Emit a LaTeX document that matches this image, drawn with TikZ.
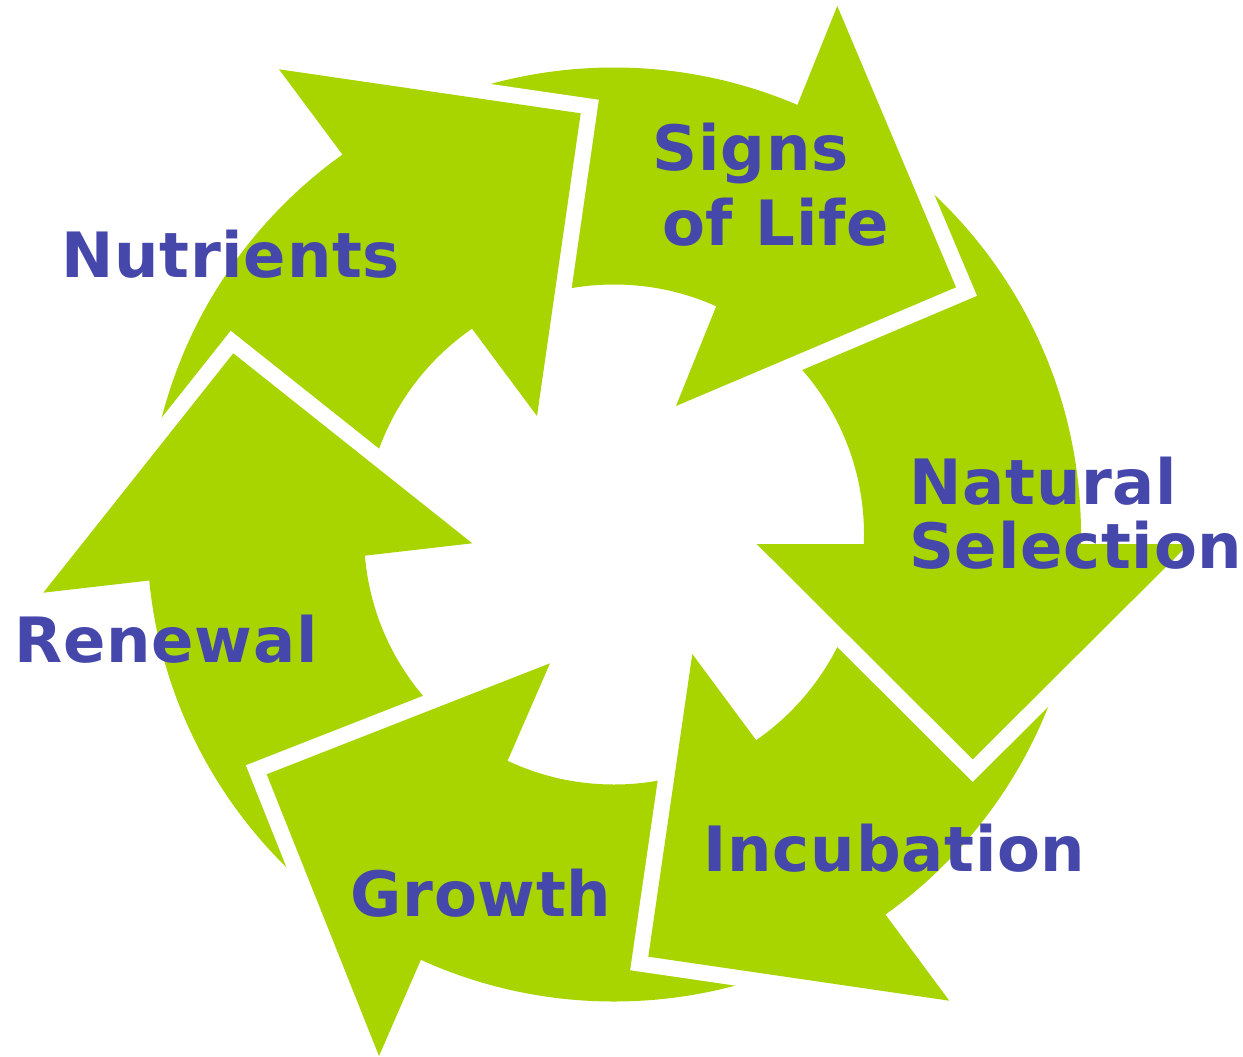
\documentclass[tikz,border=0pt]{standalone}
\usepackage{fontspec}
\newfontfamily\lblfont[LetterSpace=1.2]{DejaVu Sans}
\definecolor{leaf}{RGB}{168,212,0}
\definecolor{ink}{RGB}{69,72,170}
\tikzset{
  headgap/.style={draw=white, line width=32pt, line join=miter, miter limit=10},
  headfill/.style={fill=leaf},
  lbl/.style={anchor=base west, inner sep=0pt, text=ink, font=\lblfont\bfseries\fontsize{62.5}{75}\selectfont}
}
\begin{document}
\begin{tikzpicture}[x=1pt,y=-1pt]
\useasboundingbox (0,0) rectangle (1243,1057);
\coordinate (c) at (614,534.5);
% ring
\fill[leaf, even odd rule] (c) circle[radius=467pt] (c) circle[radius=250pt];
% arrow heads: outer barb, tip, inner barb
\coordinate (nuO) at (279,69.3);   \coordinate (nuT) at (580.7,113.3); \coordinate (nuI) at (537,416);
\coordinate (siO) at (837.3,6);    \coordinate (siT) at (956,287.3);   \coordinate (siI) at (676,406);
\coordinate (naO) at (1189,544);   \coordinate (naT) at (972.7,759.3); \coordinate (naI) at (756.7,544);
\coordinate (inO) at (949.3,1000.7); \coordinate (inT) at (648.3,956.7); \coordinate (inI) at (692.3,654);
\coordinate (grO) at (379,1056);   \coordinate (grT) at (266.7,774.3); \coordinate (grI) at (550,663.3);
\coordinate (reO) at (43.3,592.7); \coordinate (reT) at (233.3,353.3); \coordinate (reI) at (472.3,543.3);
\foreach \h in {nu,si,na,in,gr,re}{
  \draw[headgap] (\h O) -- (\h T) -- (\h I);
  \fill[headfill] (\h O) -- (\h T) -- (\h I) -- cycle;
}
% labels
\node[lbl] (nutrients) at (61,277.3) {Nutrients};
\node[lbl] (signs) at (652.4,170) {Signs};
\node[lbl] (oflife) at (662,245.7) {of Life};
\node[lbl] (natural) at (909.3,504) {Natural};
\node[lbl] (selection) at (909,568.3) {Selection};
\node[lbl] (renewal) at (14.3,662.3) {Renewal};
\node[lbl] (growth) at (350.2,916.7) {Growth};
\node[lbl] (incubation) at (703.5,871.7) {Incubation};
\end{tikzpicture}
\end{document}
